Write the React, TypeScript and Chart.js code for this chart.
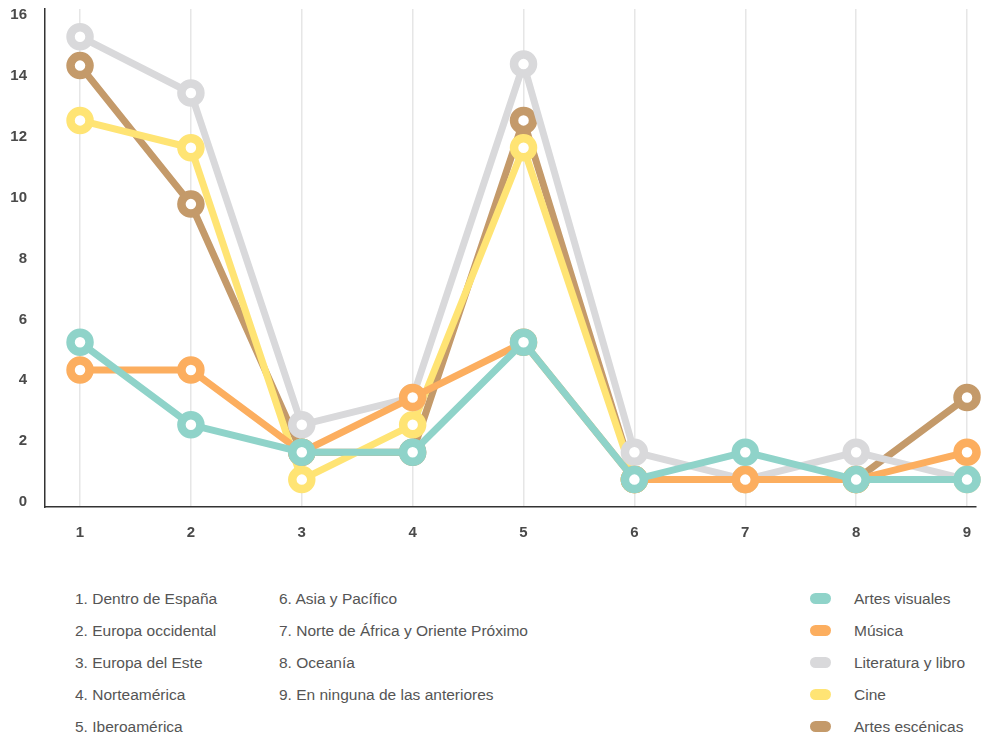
import React, { useEffect, useRef } from "react";
import { Chart, registerables } from "chart.js";

Chart.register(...registerables);

const categories = [1, 2, 3, 4, 5, 6, 7, 8, 9];
const regionLabels = [
  "1. Dentro de España",
  "2. Europa occidental",
  "3. Europa del Este",
  "4. Norteamérica",
  "5. Iberoamérica",
  "6. Asia y Pacífico",
  "7. Norte de África y Oriente Próximo",
  "8. Oceanía",
  "9. En ninguna de las anteriores",
];
const seriesNames = ["Artes visuales", "Música", "Literatura y libro", "Cine", "Artes escénicas"];
const seriesColors = ["#8fd3c9", "#fcae5f", "#d9d9db", "#ffe474", "#c49a6a"];

const artesVisuales = [5.41, 2.7, 1.8, 1.8, 5.41, 0.9, 1.8, 0.9, 0.9];
const musica = [4.5, 4.5, 1.8, 3.6, 5.41, 0.9, 0.9, 0.9, 1.8];
const literatura = [15.45, 13.6, 2.7, 3.6, 14.55, 1.8, 0.9, 1.8, 0.9];
const cine = [12.7, 11.8, 0.9, 2.7, 11.8, 0.9, 0.9, 0.9, 0.9];
const artesEscenicas = [14.5, 9.95, 1.8, 1.8, 12.7, 0.9, 0.9, 0.9, 3.6];

const seriesValues = [artesVisuales, musica, literatura, cine, artesEscenicas];
const yTicks = [0, 2, 4, 6, 8, 10, 12, 14, 16];

const FONT = "'Liberation Sans', Arial, sans-serif";

const zeroPad = (s: any) => {
  s.paddingTop = 0;
  s.paddingBottom = 0;
  s.paddingLeft = 0;
  s.paddingRight = 0;
};

export default function App() {
  const canvasRef = useRef<HTMLCanvasElement | null>(null);

  useEffect(() => {
    if (!canvasRef.current) return;
    const chart = new Chart(canvasRef.current, {
      type: "line",
      data: {
        datasets: seriesValues.map((vals, i) => ({
          label: seriesNames[i],
          data: vals.map((v, j) => ({ x: categories[j], y: v })),
          borderColor: seriesColors[i],
          backgroundColor: "#ffffff",
          borderWidth: 7,
          pointRadius: 9.5,
          pointBorderWidth: 8.5,
          pointBackgroundColor: "#ffffff",
          pointBorderColor: seriesColors[i],
          tension: 0,
          clip: false as any,
        })),
      },
      options: {
        animation: false,
        responsive: true,
        maintainAspectRatio: false,
        layout: { autoPadding: false, padding: { left: 8, right: 5, top: 9, bottom: 0 } },
        plugins: { legend: { display: false }, tooltip: { enabled: false } },
        scales: {
          x: {
            type: "linear",
            min: 0.684,
            max: 9.081,
            afterBuildTicks: (s: any) => {
              s.ticks = categories.map((v) => ({ value: v }));
            },
            afterFit: (s: any) => {
              s.height = 53;
              zeroPad(s);
            },
            grid: { display: true, color: "#e6e6e6", lineWidth: 1.5, drawTicks: false },
            border: { display: true, color: "#333333", width: 1.5 },
            ticks: {
              padding: 17,
              color: "#4a4a4a",
              font: { family: FONT, size: 15, weight: "bold" },
              callback: (v: any) => String(v),
            },
          },
          y: {
            type: "linear",
            min: 0,
            max: 16.36,
            afterBuildTicks: (s: any) => {
              s.ticks = yTicks.map((v) => ({ value: v }));
            },
            afterFit: (s: any) => {
              s.width = 37;
              zeroPad(s);
            },
            grid: { display: false, drawTicks: false },
            border: { display: true, color: "#333333", width: 1.5 },
            ticks: {
              padding: 18,
              color: "#4a4a4a",
              font: { family: FONT, size: 15, weight: "bold", lineHeight: "10px" as any },
              callback: (v: any) => [String(v), ""],
            },
          },
        },
      },
    });
    return () => chart.destroy();
  }, []);

  const textStyle: React.CSSProperties = {
    position: "absolute",
    fontFamily: FONT,
    fontSize: "15.5px",
    color: "#555555",
    lineHeight: "20px",
    whiteSpace: "nowrap",
  };

  return (
    <div style={{ position: "absolute", left: 0, top: 0, width: 981, height: 736 }}>
      <div style={{ position: "absolute", left: 0, top: 0, width: 981, height: 560 }}>
        <canvas ref={canvasRef} />
      </div>
      {regionLabels.map((t, i) => {
        const col = i < 5 ? 0 : 1;
        const row = i < 5 ? i : i - 5;
        return (
          <div
            key={t}
            style={{ ...textStyle, left: col === 0 ? 75 : 279, top: 589 + row * 32 }}
          >
            {t}
          </div>
        );
      })}
      {seriesNames.map((n, i) => (
        <React.Fragment key={n}>
          <div
            style={{
              position: "absolute",
              left: 810,
              top: 593 + i * 32,
              width: 21,
              height: 11,
              borderRadius: 6,
              background: seriesColors[i],
            }}
          />
          <div style={{ ...textStyle, left: 854, top: 589 + i * 32 }}>{n}</div>
        </React.Fragment>
      ))}
    </div>
  );
}
